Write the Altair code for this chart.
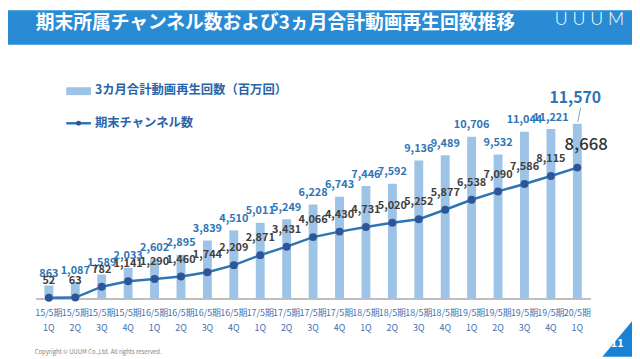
import altair as alt
import pandas as pd

periods = ["15/5期"] * 4 + ["16/5期"] * 4 + ["17/5期"] * 4 + ["18/5期"] * 4 + ["19/5期"] * 4 + ["20/5期"]
quarters = ["1Q", "2Q", "3Q", "4Q"] * 5 + ["1Q"]
views = [863, 1087, 1589, 2033, 2602, 2895, 3839, 4510, 5011, 5249, 6228, 6743,
         7446, 7592, 9136, 9489, 10706, 9532, 11044, 11221, 11570]
channels = [52, 63, 782, 1141, 1290, 1460, 1744, 2209, 2871, 3431, 4066, 4430,
            4731, 5020, 5252, 5877, 6538, 7090, 7586, 8115, 8668]

title_text = "期末所属チャンネル数および3ヵ月合計動画再生回数推移"
legend_bar = "3カ月合計動画再生回数（百万回）"
legend_line = "期末チャンネル数"
copyright_text = "Copyright © UUUM Co.,Ltd. All rights reserved."

FONT = "Noto Sans CJK JP"
n = len(views)
df = pd.DataFrame({
    "cat": [f"{p}\n{q}" for p, q in zip(periods, quarters)],
    "views": views,
    "channels": channels,
    "idx": list(range(n)),
    "vlab": [f"{v:,}" for v in views],
    "clab": [f"{c:,}" for c in channels],
})

xenc = alt.X("cat:N", sort=None,
             scale=alt.Scale(type="band", range=[28, 590], paddingInner=0.5, paddingOuter=0.25),
             axis=alt.Axis(title=None, labelAngle=0, labelExpr="split(datum.label, '\\n')",
                           labelFont=FONT, labelFontSize=9, labelColor="#3f70b0",
                           labelLineHeight=15, labelPadding=10, labelOverlap=False,
                           labelBound=False, labelFlush=False, ticks=False,
                           domainColor="#bfbfbf", domainWidth=2, grid=False))
yscale = alt.Scale(domain=[0, 19087], nice=False, zero=True)
yenc_v = alt.Y("views:Q", scale=yscale, axis=None)
yenc_c = alt.Y("channels:Q", scale=yscale, axis=None)

base = alt.Chart(df)
bars = base.mark_bar(width=9, color="#9dc3e6").encode(x=xenc, y=yenc_v)
line = base.mark_line(color="#2e75b6", strokeWidth=2.5).encode(x=xenc, y=yenc_c)
pts = base.mark_circle(size=64, color="#2f5597", opacity=1).encode(x=xenc, y=yenc_c)

bar_lab = base.transform_filter(alt.datum.idx < n - 1).mark_text(
    font=FONT, fontSize=11, fontWeight="bold", color="#2e75b6", baseline="middle", dy=-11.5
).encode(x=xenc, y=yenc_v, text="vlab:N")
line_lab = base.transform_filter(alt.datum.idx < n - 1).mark_text(
    font=FONT, fontSize=11, fontWeight="bold", color="#404040", baseline="middle", dy=-17
).encode(x=xenc, y=yenc_c, text="clab:N")
last_bar_lab = base.transform_filter(alt.datum.idx == n - 1).mark_text(
    font=FONT, fontSize=16, fontWeight="bold", color="#2e75b6", baseline="middle", dx=-2
).encode(x=xenc, y=alt.value(89), text="vlab:N")
last_line_lab = base.transform_filter(alt.datum.idx == n - 1).mark_text(
    font=FONT, fontSize=17, fontWeight=500, color="#333333", baseline="middle", dx=9, dy=-23
).encode(x=xenc, y=yenc_c, text="clab:N")
leader = base.transform_filter(alt.datum.idx == n - 1).mark_rule(
    color="#7f9fc8", strokeWidth=1
).encode(x=alt.value(577), x2=alt.value(580), y=alt.value(113), y2=alt.value(99))

one = pd.DataFrame({"k": [0]})
deco = alt.Chart(one)
band = deco.mark_rect(color="#2a8bd5").encode(
    x=alt.value(0), x2=alt.value(632), y=alt.value(0), y2=alt.value(35))
title = deco.mark_text(text=title_text, font=FONT, fontSize=19, fontWeight="bold",
                       color="white", align="left", baseline="middle").encode(
    x=alt.value(28), y=alt.value(13))
logo = deco.mark_text(text="U U U M", font="Lato", fontSize=18,
                      fontWeight=300, color="white", align="center",
                      baseline="middle").encode(x=alt.value(589), y=alt.value(10))
leg_rect = deco.mark_rect(color="#9dc3e6").encode(
    x=alt.value(59), x2=alt.value(84), y=alt.value(78), y2=alt.value(86))
leg_text1 = deco.mark_text(text=legend_bar, font=FONT, fontSize=12.5, fontWeight="bold",
                           color="#2a64a8", align="left", baseline="middle").encode(
    x=alt.value(88), y=alt.value(81))
leg_rule = deco.mark_rule(color="#2e75b6", strokeWidth=2.5).encode(
    x=alt.value(59), x2=alt.value(84), y=alt.value(114.5))
leg_dot = deco.mark_circle(size=25, color="#2f5597", opacity=1).encode(
    x=alt.value(71.5), y=alt.value(114.5))
leg_text2 = deco.mark_text(text=legend_line, font=FONT, fontSize=12.5, fontWeight="bold",
                           color="#2a64a8", align="left", baseline="middle").encode(
    x=alt.value(88), y=alt.value(114.5))
tri = deco.mark_point(shape="M -0.667 1 L 1 1 L 1 -1 Z", size=1296, filled=True,
                      color="#1a82d4", opacity=1, strokeWidth=0).encode(
    x=alt.value(614), y=alt.value(333))
page_no = deco.mark_text(text="11", font=FONT, fontSize=11, fontWeight="bold", color="white",
                         align="center", baseline="middle").encode(
    x=alt.value(617), y=alt.value(338))
copy = deco.mark_text(text=copyright_text, font=FONT, fontSize=6, color="#7f7f7f",
                      align="left", baseline="middle").encode(
    x=alt.value(27), y=alt.value(346))

chart = alt.layer(
    band, title, logo, bars, line, pts, bar_lab, line_lab, last_bar_lab, last_line_lab, leader,
    leg_rect, leg_text1, leg_rule, leg_dot, leg_text2, tri, page_no, copy
).properties(
    width=632, height=292,
    autosize=alt.AutoSizeParams(type="none"),
    padding={"left": 0, "top": 0, "right": 0, "bottom": 59},
).configure_view(stroke=None)

chart.save("out.html", embed_options={"renderer": "svg", "actions": False})
